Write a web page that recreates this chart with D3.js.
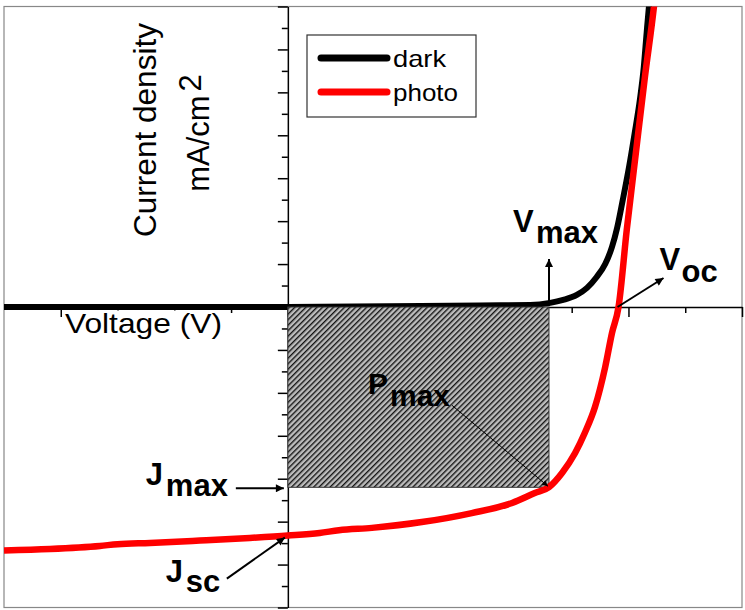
<!DOCTYPE html>
<html><head><meta charset="utf-8">
<script src="https://cdn.jsdelivr.net/npm/d3@7"></script>
<style>html,body{margin:0;padding:0;background:#fff;} svg{display:block;font-family:Arial,"Liberation Sans",sans-serif;}</style>
</head><body><svg id="c" width="745" height="610"></svg>
<script>
// ---- data ----
const voltageDomain = [-0.5, 0.8];
const currentDomain = [-14, 14];
const voltageMajorTicks = [-0.4, -0.2, 0, 0.2, 0.4, 0.6, 0.8];
const voltageMinorTicks = [-0.3, -0.1, 0.1, 0.3, 0.5, 0.7];
const currentMajorTicks = [-14, -12, -10, -8, -6, -4, -2, 0, 2, 4, 6, 8, 10, 12, 14];
const currentMinorTicks = [-13, -11, -9, -7, -5, -3, -1, 1, 3, 5, 7, 9, 11, 13];
const seriesNames = ["dark", "photo"];
const darkV = [-0.5, 0.0, 0.338, 0.427, 0.462, 0.485, 0.509, 0.527, 0.544, 0.559, 0.571, 0.580, 0.590, 0.601, 0.611, 0.620, 0.627, 0.632, 0.636, 0.638];
const darkJ = [0.0, 0.0, 0.07, 0.09, 0.19, 0.33, 0.56, 0.89, 1.40, 2.00, 2.80, 3.68, 4.99, 6.52, 8.11, 9.64, 11.18, 12.77, 13.98, 14.5];
const photoV = [-0.5, -0.419, -0.331, -0.30, -0.243, -0.155, -0.067, 0.0, 0.056, 0.09, 0.148, 0.236, 0.324, 0.395, 0.435, 0.460, 0.483, 0.506, 0.523, 0.541, 0.559, 0.571, 0.5825, 0.597, 0.613, 0.629, 0.645, 0.647];
const photoJ = [-11.34, -11.27, -11.13, -11.05, -10.99, -10.88, -10.76, -10.65, -10.53, -10.40, -10.29, -10.02, -9.60, -9.13, -8.67, -8.39, -7.73, -6.80, -5.87, -4.66, -2.80, -1.21, 0, 3.59, 7.17, 10.72, 14.02, 14.5];
const Vmax = 0.46, Jmax = -8.4, Voc = 0.5825, Jsc = -10.65;

// ---- drawing ----
const svg = d3.select("#c");
const x = d3.scaleLinear().domain(voltageDomain).range([4, 742]);
const y = d3.scaleLinear().domain(currentDomain).range([607.5, 6.5]);
const x0 = x(0), y0 = y(0);

const defs = svg.append("defs");
defs.append("clipPath").attr("id", "clip").append("rect")
  .attr("x", x.range()[0]).attr("y", y.range()[1]).attr("width", x.range()[1] - x.range()[0]).attr("height", y.range()[0] - y.range()[1]);
const P = 3.9;
const pat = defs.append("pattern").attr("id", "hatch").attr("patternUnits", "userSpaceOnUse")
  .attr("width", P).attr("height", P).attr("patternTransform", "rotate(45)");
pat.append("rect").attr("width", P).attr("height", P).attr("fill", "#bcbcbc");
pat.append("line").attr("x1", 0.7).attr("y1", 0).attr("x2", 0.7).attr("y2", P).attr("stroke", "#111").attr("stroke-width", 1.35);
function marker(id, w, l) {
  defs.append("marker").attr("id", id).attr("viewBox", "0 0 10 10").attr("refX", 10).attr("refY", 5)
    .attr("markerWidth", l).attr("markerHeight", w).attr("markerUnits", "userSpaceOnUse").attr("orient", "auto")
    .append("path").attr("d", "M0,0L10,5L0,10z").attr("fill", "#000");
}
marker("ah", 8, 10);
marker("ahs", 6, 8);

// frame
svg.append("rect").attr("x", x.range()[0]).attr("y", y.range()[1]).attr("width", x.range()[1] - x.range()[0]).attr("height", y.range()[0] - y.range()[1])
  .attr("fill", "none").attr("stroke", "#888").attr("stroke-width", 1.2);

// axes
function styleAxis(g) { g.selectAll("path,line").attr("stroke", "#000").attr("stroke-width", 1.5); }
svg.append("g").attr("transform", `translate(0,${y0})`)
  .call(d3.axisBottom(x).tickValues(voltageMajorTicks).tickSize(10).tickSizeOuter(0).tickFormat(""))
  .call(styleAxis);
svg.append("g").attr("transform", `translate(0,${y0})`)
  .call(d3.axisBottom(x).tickValues(voltageMinorTicks).tickSize(6).tickSizeOuter(0).tickFormat(""))
  .call(g => g.select(".domain").remove()).call(styleAxis);
svg.append("g").attr("transform", `translate(${x0},0)`)
  .call(d3.axisLeft(y).tickValues(currentMajorTicks).tickSize(10).tickSizeOuter(0).tickFormat(""))
  .call(styleAxis);
svg.append("g").attr("transform", `translate(${x0},0)`)
  .call(d3.axisLeft(y).tickValues(currentMinorTicks).tickSize(6).tickSizeOuter(0).tickFormat(""))
  .call(g => g.select(".domain").remove()).call(styleAxis);

// x-axis label with white backing
svg.append("rect").attr("x", 66).attr("y", y0 + 3.5).attr("width", 162).attr("height", 32).attr("fill", "#fff");
svg.append("text").attr("x", 65).attr("y", y0 + 26).attr("font-size", 28.5)
  .attr("textLength", 157).attr("lengthAdjust", "spacingAndGlyphs").text("Voltage (V)");

// y-axis label
svg.append("text").attr("transform", "translate(156,130) rotate(-90)").attr("text-anchor", "middle")
  .attr("font-size", 32).attr("textLength", 214).attr("lengthAdjust", "spacingAndGlyphs").text("Current density");
const t2 = svg.append("text").attr("transform", "translate(209,133) rotate(-90)").attr("text-anchor", "middle").attr("font-size", 31);
t2.append("tspan").text("mA/cm");
t2.append("tspan").attr("dx", 4).attr("dy", -8).text("2");

// curves
const line = d3.line().x(d => x(d[0])).y(d => y(d[1])).curve(d3.curveMonotoneX);
const darkData = darkV.map((v, i) => [v, darkJ[i]]);
const photoData = photoV.map((v, i) => [v, photoJ[i]]);
const curves = svg.append("g").attr("clip-path", "url(#clip)");
curves.append("path").datum(darkData).attr("d", line).attr("fill", "none").attr("stroke", "#000").attr("stroke-width", 6);

// hatched Pmax rectangle
svg.append("rect").attr("x", x(0)).attr("y", y(0)).attr("width", x(Vmax) - x(0)).attr("height", y(Jmax) - y(0))
  .attr("fill", "url(#hatch)").attr("stroke", "#333").attr("stroke-width", 1);

const curves2 = svg.append("g").attr("clip-path", "url(#clip)");
curves2.append("path").datum(photoData).attr("d", line).attr("fill", "none").attr("stroke", "#ff0000").attr("stroke-width", 6.5);

// annotations
function arrow(x1, y1, x2, y2, w, m) {
  svg.append("line").attr("x1", x1).attr("y1", y1).attr("x2", x2).attr("y2", y2)
    .attr("stroke", "#000").attr("stroke-width", w).attr("marker-end", `url(#${m})`);
}
function label(px, py, main, sub, subDx, subDy, size) {
  const g = svg.append("g").attr("font-weight", "bold").attr("font-size", size);
  g.append("text").attr("x", px).attr("y", py).text(main);
  g.append("text").attr("x", px + subDx).attr("y", py + subDy).text(sub);
}
const xm = x(Vmax), yj = y(Jmax), ysc = y(Jsc), xoc = x(Voc);
// Vmax
arrow(xm, y0 - 1, xm, y0 - 48, 2, "ah");
label(xm - 36, y0 - 75, "V", "max", 23, 11, 31);
// Voc
arrow(xoc - 1, y0, xoc + 45, y0 - 29, 2, "ah");
label(xoc + 41, y0 - 37, "V", "oc", 22, 12, 31);
// Pmax
arrow(xm - 97, yj - 82, xm - 1, yj - 1, 1, "ahs");
label(xm - 181, yj - 93, "P", "max", 22, 12, 30);
// Jmax
arrow(x0 - 52, yj + 1, x0 - 4, yj + 1, 2, "ah");
label(x0 - 142, yj - 2, "J", "max", 20, 11, 31);
// Jsc
arrow(x0 - 61, ysc + 43, x0 - 3, ysc + 2, 2, "ah");
label(x0 - 122, ysc + 46, "J", "sc", 20, 10, 31);

// legend
const lg = svg.append("g");
lg.append("rect").attr("x", 307).attr("y", 35).attr("width", 169).attr("height", 82).attr("fill", "#fff").attr("stroke", "#333").attr("stroke-width", 1.2);
const lgColors = ["#000", "#ff0000"];
const lgLens = [53, 65];
seriesNames.forEach((n, i) => {
  const ly = 58 + i * 34;
  lg.append("line").attr("x1", 321).attr("x2", 387).attr("y1", ly).attr("y2", ly)
    .attr("stroke", lgColors[i]).attr("stroke-width", 7).attr("stroke-linecap", "round");
  lg.append("text").attr("x", 393).attr("y", ly + 9).attr("font-size", 24)
    .attr("textLength", lgLens[i]).attr("lengthAdjust", "spacingAndGlyphs").text(n);
});
</script></body></html>
